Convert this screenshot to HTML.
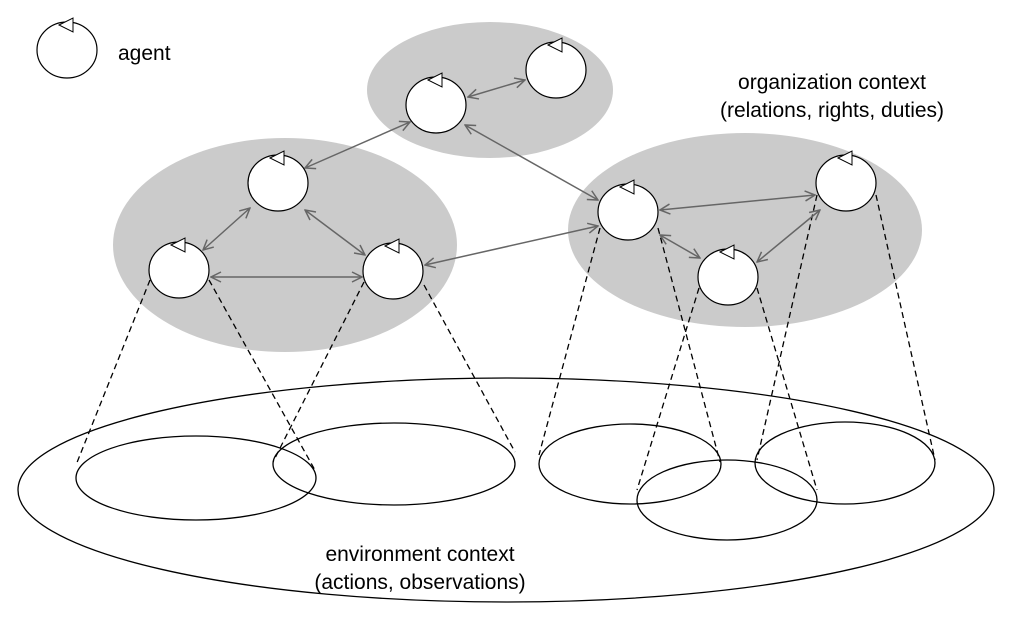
<!DOCTYPE html><html><head><style>body{margin:0;background:#fff}svg{display:block}</style></head><body>
<svg width="1010" height="619" viewBox="0 0 1010 619" xmlns="http://www.w3.org/2000/svg" font-family="Liberation Sans, Arial, sans-serif">
<defs>
<marker id="a" viewBox="0 0 12 12" refX="11" refY="6" markerWidth="12" markerHeight="12" markerUnits="userSpaceOnUse" orient="auto-start-reverse">
<polyline points="1,1 11,6 1,11" fill="none" stroke="#666" stroke-width="1.5"/></marker>
<g id="ag"><ellipse cx="0" cy="0" rx="30" ry="28" fill="#fff" stroke="#000" stroke-width="1.2"/><polygon points="-8,-25 6,-32 6,-18" fill="#fff" stroke="#000" stroke-width="1"/></g>
</defs>
<ellipse cx="490" cy="90" rx="123" ry="68" fill="#cbcbcb"/>
<ellipse cx="285" cy="245" rx="172" ry="107" fill="#cbcbcb"/>
<ellipse cx="745" cy="230" rx="177" ry="97" fill="#cbcbcb"/>
<g fill="none" stroke="#000" stroke-width="1.3">
<ellipse cx="506" cy="490" rx="488" ry="112"/>
<ellipse cx="196" cy="478" rx="120" ry="42"/>
<ellipse cx="394" cy="464" rx="121" ry="41"/>
<ellipse cx="630" cy="464" rx="91" ry="40"/>
<ellipse cx="727" cy="500" rx="90" ry="40"/>
<ellipse cx="845" cy="463" rx="90" ry="41"/>
</g>
<g stroke="#000" stroke-width="1.3" stroke-dasharray="6,4">
<line x1="150" y1="280" x2="76" y2="465"/><line x1="209" y1="280" x2="316" y2="472"/>
<line x1="364" y1="282" x2="273" y2="462"/><line x1="424" y1="285" x2="515" y2="452"/>
<line x1="600" y1="228" x2="539" y2="455"/><line x1="658" y1="228" x2="720" y2="462"/>
<line x1="699" y1="288" x2="637" y2="490"/><line x1="757" y1="288" x2="817" y2="490"/>
<line x1="817" y1="195" x2="757" y2="460"/><line x1="876" y1="195" x2="935" y2="460"/>
</g>
<g stroke="#666" stroke-width="1.5" marker-start="url(#a)" marker-end="url(#a)">
<line x1="410" y1="122" x2="305" y2="168"/>
<line x1="468" y1="97" x2="525" y2="80"/>
<line x1="465" y1="125" x2="598" y2="200"/>
<line x1="250" y1="208" x2="203" y2="250"/>
<line x1="305" y1="210" x2="365" y2="255"/>
<line x1="211" y1="277" x2="362" y2="277"/>
<line x1="425" y1="265" x2="598" y2="226"/>
<line x1="660" y1="210" x2="815" y2="195"/>
<line x1="660" y1="235" x2="700" y2="258"/>
<line x1="757" y1="262" x2="820" y2="210"/>
</g>
<use href="#ag" x="67" y="50"/>
<use href="#ag" x="436" y="105"/><use href="#ag" x="556" y="70"/>
<use href="#ag" x="278" y="183"/><use href="#ag" x="179" y="270"/><use href="#ag" x="393" y="271"/>
<use href="#ag" x="628" y="212"/><use href="#ag" x="846" y="183"/><use href="#ag" x="728" y="277"/>
<g font-size="21" fill="#000">
<text x="118" y="60">agent</text>
<text x="832" y="89" text-anchor="middle">organization context</text>
<text x="832" y="117" text-anchor="middle">(relations, rights, duties)</text>
<text x="420" y="561" text-anchor="middle">environment context</text>
<text x="420" y="589" text-anchor="middle">(actions, observations)</text>
</g>
</svg></body></html>
